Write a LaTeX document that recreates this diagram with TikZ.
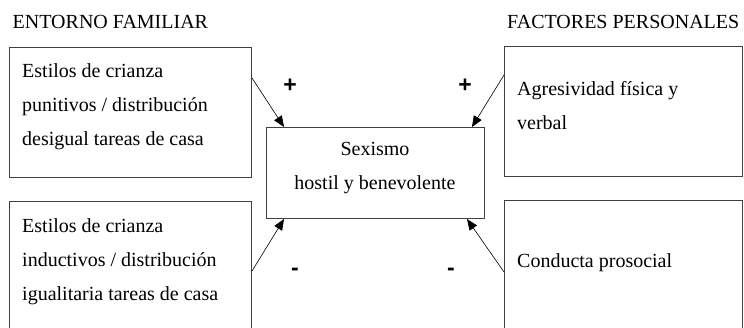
\documentclass[tikz,border=0pt]{standalone}
\usepackage{fontspec}
\setmainfont{Liberation Serif}
\newfontfamily\signfont{Liberation Sans}
\usetikzlibrary{arrows.meta}
\begin{document}
\begin{tikzpicture}[x=1pt,y=1pt,
  box/.style={draw=black!75,line width=1pt,inner sep=0pt,anchor=north west},
  boxtext/.style={font=\fontsize{20}{34}\selectfont,align=left,inner sep=0pt,anchor=base west},
  sign/.style={font=\signfont\bfseries\fontsize{23}{23}\selectfont,inner sep=0pt,anchor=base},
  link/.style={-{Triangle[length=11pt,width=9pt]},line width=0.6pt}]
\useasboundingbox (0,0) rectangle (744,327);
\clip (0,0) rectangle (744,327);
\node[boxtext] (famhead) at (12.5,298.5) {ENTORNO FAMILIAR};
\node[boxtext] (perhead) at (507,298.5) {FACTORES PERSONALES};
\node[box,minimum width=242,minimum height=130] (fam1) at (9,280) {};
\node[box,minimum width=242,minimum height=140] (fam2) at (9,126.5) {};
\node[box,minimum width=218,minimum height=91] (sex) at (266,200) {};
\node[box,minimum width=238,minimum height=130] (per1) at (504,281) {};
\node[box,minimum width=238,minimum height=140] (per2) at (504,127) {};
% base anchor = baseline of the last line
\node[boxtext] (fam1txt) at (22,181) {Estilos de crianza\\punitivos / distribución\\desigual tareas de casa};
\node[boxtext] (fam2txt) at (22,27) {Estilos de crianza\\inductivos / distribución\\igualitaria tareas de casa};
\node[boxtext,align=center,anchor=base] (sextxt) at (375,137) {Sexismo\\hostil y benevolente};
\node[boxtext] (per1txt) at (517,197.5) {Agresividad física y\\verbal};
\node[boxtext] (per2txt) at (517,60) {Conducta prosocial};
\draw[link] ([yshift=-31pt]fam1.north east) -- ([xshift=18pt]sex.north west);
\draw[link] ([yshift=-29pt]per1.north west) -- ([xshift=-13pt]sex.north east);
\draw[link] ([yshift=-70.5pt]fam2.north east) -- ([xshift=18pt]sex.south west);
\draw[link] ([yshift=-72pt]per2.north west) -- ([xshift=-18pt]sex.south east);
\node[sign] (plusfam) at (290,234) {+};
\node[sign] (plusper) at (465,234.5) {+};
\node[sign] (minusfam) at (295,52) {-};
\node[sign] (minusper) at (451,52) {-};
\end{tikzpicture}
\end{document}
